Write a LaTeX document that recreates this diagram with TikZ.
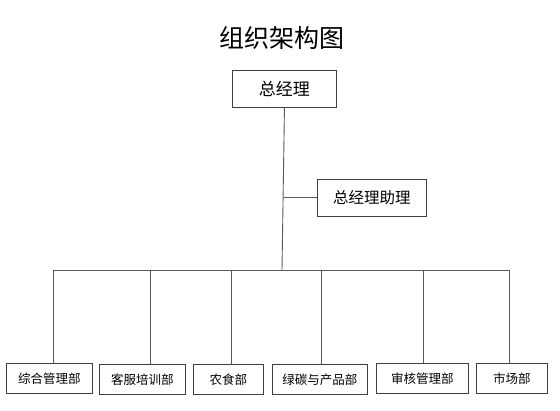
\documentclass[tikz,border=0pt]{standalone}
\usepackage{fontspec}
\newfontfamily\cjk{Noto Sans CJK SC}
\begin{document}
\begin{tikzpicture}[x=1pt,y=-1pt,
  box/.style={draw=black!75, line width=0.9pt, inner sep=0pt, anchor=north west, font=\cjk},
  link/.style={draw=black!65, line width=0.9pt}]
\useasboundingbox (0,0) rectangle (560,411);
\node[font=\cjk\fontsize{25}{28}\selectfont] (title) at (282,38) {组织架构图};
\node[box, minimum width=104pt, minimum height=37pt, font=\cjk\fontsize{17}{20}\selectfont] (gm) at (232,70) {总经理};
\node[box, minimum width=109pt, minimum height=37pt, font=\cjk\fontsize{15.5}{18}\selectfont] (ast) at (317,179) {总经理助理};
\tikzset{dep/.style={box, minimum height=30pt, font=\cjk\fontsize{12.5}{15}\selectfont}}
\node[dep, minimum width=86pt] (d1) at (6,363) {综合管理部};
\node[dep, minimum width=86pt] (d2) at (99,364) {客服培训部};
\node[dep, minimum width=70pt] (d3) at (193,364) {农食部};
\node[dep, minimum width=95pt] (d4) at (272,364) {绿碳与产品部};
\node[dep, minimum width=92pt] (d5) at (376,363) {审核管理部};
\node[dep, minimum width=71pt] (d6) at (476,363) {市场部};
\coordinate (bus) at (282,270);
\draw[link] (gm.south) -- (bus);
\draw[link] (gm.south |- ast.west) -- (ast.west);
\draw[link] (53,363) -- (53,270) -- (509,270) -- (509,363);
\draw[link] (150,270) -- (150,364);
\draw[link] (231,270) -- (231,364);
\draw[link] (321,270) -- (321,364);
\draw[link] (423,270) -- (423,363);
\end{tikzpicture}
\end{document}
